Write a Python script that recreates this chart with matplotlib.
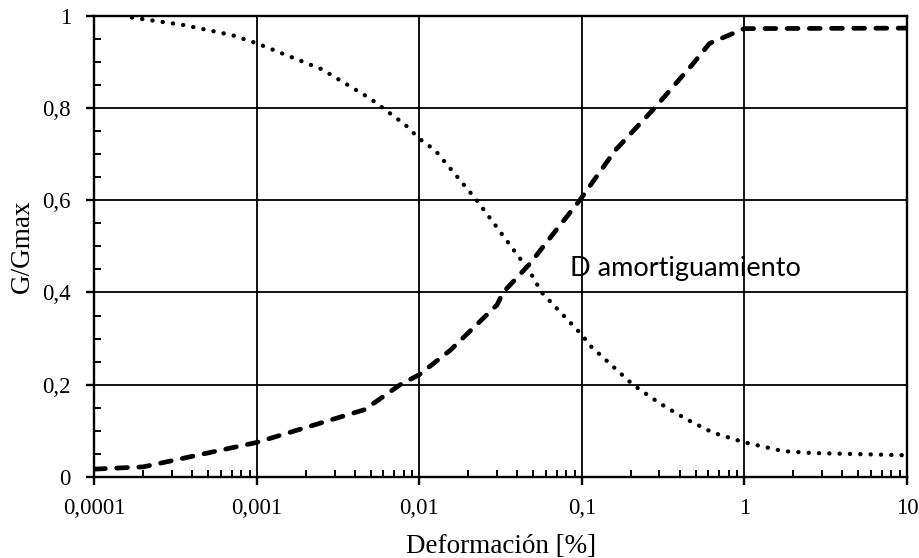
import matplotlib
matplotlib.use("Agg")
import matplotlib.pyplot as plt
from matplotlib.ticker import FixedLocator, LogLocator, NullFormatter, MultipleLocator

# G/Gmax curve (dotted)
g_x = [0.00017, 0.00035, 0.0007, 0.001, 0.0025, 0.005, 0.0082, 0.01, 0.0125,
       0.0225, 0.048, 0.0565, 0.1, 0.112, 0.206, 0.3, 0.44, 0.64, 1, 1.73, 2.6, 10]
g_y = [0.996, 0.98, 0.958, 0.94, 0.884, 0.82, 0.763, 0.733, 0.708,
       0.60, 0.444, 0.40, 0.308, 0.285, 0.20, 0.16, 0.125, 0.096, 0.075, 0.056, 0.052, 0.047]

# damping curve (dashed)
d_x = [0.0001, 0.0002, 0.001, 0.0046, 0.0076, 0.01, 0.0155, 0.030, 0.0327,
       0.048, 0.06, 0.097, 0.16, 0.28, 0.48, 0.61, 1, 10]
d_y = [0.017, 0.022, 0.075, 0.146, 0.20, 0.222, 0.275, 0.373, 0.40,
       0.463, 0.507, 0.60, 0.708, 0.80, 0.895, 0.94, 0.972, 0.973]

x_ticks = [0.0001, 0.001, 0.01, 0.1, 1, 10]
x_labels = ["0,0001", "0,001", "0,01", "0,1", "1", "10"]
y_ticks = [0, 0.2, 0.4, 0.6, 0.8, 1]
y_labels = ["0", "0,2", "0,4", "0,6", "0,8", "1"]

serif = "Liberation Serif"

fig = plt.figure(figsize=(9.19, 5.58), dpi=100)
ax = fig.add_axes([0.1028, 0.1452, 0.8841, 0.8267])

ax.plot(g_x, g_y, color="black", lw=3.1, linestyle=(0, (0.05, 2.35)),
        dash_capstyle="round", zorder=3)
ax.plot(d_x, d_y, color="black", lw=3.4, linestyle=(0, (2.3, 2.4)),
        dash_capstyle="round", zorder=3)

ax.set_xscale("log")
ax.set_xlim(0.0001, 10)
ax.set_ylim(0, 1)

ax.xaxis.set_major_locator(FixedLocator(x_ticks))
ax.set_xticklabels(x_labels)
ax.xaxis.set_minor_locator(LogLocator(base=10, subs=range(2, 10), numticks=20))
ax.xaxis.set_minor_formatter(NullFormatter())
ax.yaxis.set_major_locator(FixedLocator(y_ticks))
ax.set_yticklabels(y_labels)
ax.yaxis.set_minor_locator(MultipleLocator(0.05))

ax.grid(True, which="major", color="black", lw=1.3)
for s in ax.spines.values():
    s.set_linewidth(1.7)

ax.tick_params(which="major", direction="out", length=6, width=1.7,
               labelsize=16.5, pad=9)
ax.tick_params(axis="y", which="major", pad=11)
ax.tick_params(which="minor", direction="in", length=5, width=1.4)
for lab in ax.get_xticklabels() + ax.get_yticklabels():
    lab.set_family(serif)

ax.set_xlabel("Deformación [%]", family=serif, fontsize=19.5, labelpad=11)
ax.set_ylabel("G/Gmax", family=serif, fontsize=19.5, labelpad=5)

ax.text(0.084, 0.453, "D amortiguamiento", family="Lato", fontsize=19.5,
        ha="left", va="center")

fig.savefig("out.png", dpi=100)
